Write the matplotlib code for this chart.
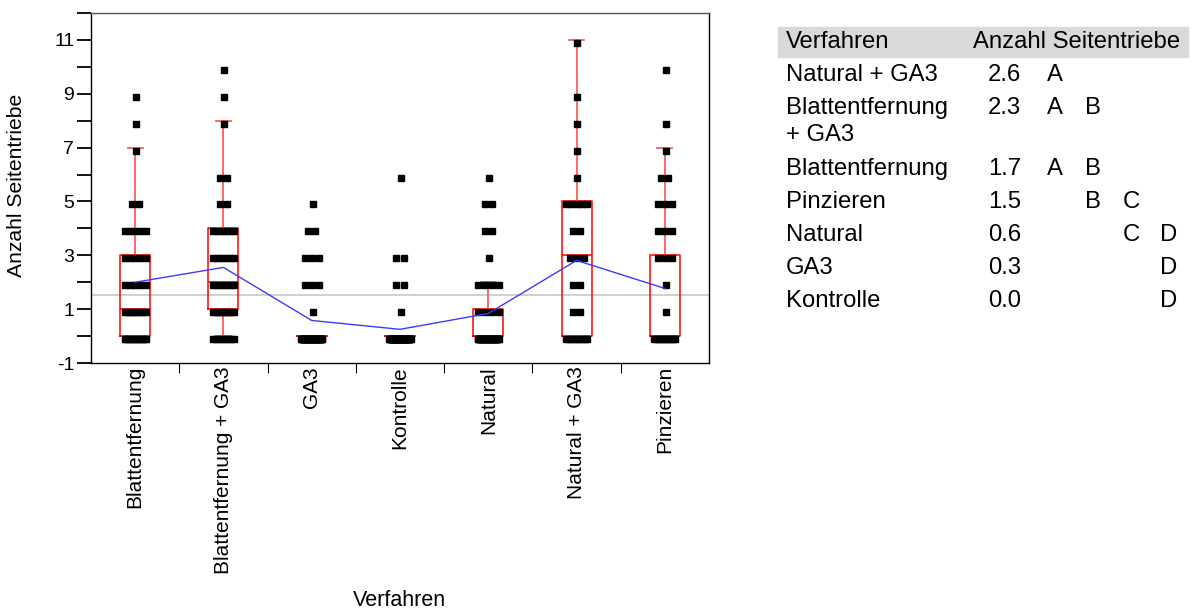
import numpy as np
import matplotlib
matplotlib.use("Agg")
import matplotlib.pyplot as plt
import matplotlib.transforms as mtransforms
from matplotlib.patches import Rectangle

plt.rcParams['font.family'] = ['Liberation Sans', 'DejaVu Sans']

# ---- data ----
categories = ["Blattentfernung", "Blattentfernung + GA3", "GA3", "Kontrolle",
              "Natural", "Natural + GA3", "Pinzieren"]
point_levels = list(range(12))  # values 0..11
# number of observations at each level 0..11, per category
counts_blatt      = [12, 9, 5, 5, 5, 2, 0, 1, 1, 1, 0, 0]
counts_blatt_ga3  = [8, 10, 6, 6, 6, 2, 2, 0, 1, 1, 1, 0]
counts_ga3        = [40, 1, 3, 3, 2, 1, 0, 0, 0, 0, 0, 0]
counts_kontrolle  = [50, 1, 2, 2, 0, 0, 1, 0, 0, 0, 0, 0]
counts_natural    = [32, 4, 4, 1, 2, 2, 1, 0, 0, 0, 0, 0]
counts_natural_ga3 = [9, 2, 2, 3, 2, 5, 1, 1, 1, 1, 0, 1]
counts_pinz       = [10, 1, 1, 3, 3, 3, 2, 1, 1, 0, 1, 0]
all_counts = [counts_blatt, counts_blatt_ga3, counts_ga3, counts_kontrolle,
              counts_natural, counts_natural_ga3, counts_pinz]

# box plot statistics
q1 = [0, 1, 0, 0, 0, 0, 0]
median = [1, 2, 0, 0, 0, 3, 0]
q3 = [3, 4, 0, 0, 1, 5, 3]
whisk_lo = [0, 0, 0, 0, 0, 0, 0]
whisk_hi = [7, 8, 0, 0, 2, 11, 7]
group_means = [2.0, 2.55, 0.58, 0.25, 0.84, 2.81, 1.77]
grand_mean = 1.51

# table
table_names = ["Natural + GA3", "Blattentfernung\n+ GA3", "Blattentfernung",
               "Pinzieren", "Natural", "GA3", "Kontrolle"]
table_means = ["2.6", "2.3", "1.7", "1.5", "0.6", "0.3", "0.0"]
table_letters = [["A"], ["A", "B"], ["A", "B"], ["B", "C"], ["C", "D"], ["D"], ["D"]]

# ---- figure ----
W, H = 1194, 612
fig = plt.figure(figsize=(W / 100, H / 100), dpi=100)
ax = fig.add_axes([91 / W, 1 - 363 / H, (709 - 91) / W, (363 - 13) / H])

ax.set_xlim(-0.5, 6.5)
ax.set_ylim(-1, 12)

# grand mean line
ax.axhline(grand_mean, color="#c8c8c8", lw=1.2, zorder=1)

# box plots
stats = []
for i in range(len(categories)):
    stats.append(dict(med=median[i], q1=q1[i], q3=q3[i],
                      whislo=whisk_lo[i], whishi=whisk_hi[i], fliers=[]))
ax.bxp(stats, positions=np.arange(len(categories)), widths=0.34,
       showfliers=False,
       boxprops=dict(color="#ff0000", lw=1.1),
       medianprops=dict(color="#ff0000", lw=1.1),
       whiskerprops=dict(color="#ff5a5a", lw=1.3),
       capprops=dict(color="#ff5a5a", lw=1.3),
       manage_ticks=False, zorder=2)

# points (jittered horizontally, slightly shifted down like the original)
ptrans = mtransforms.offset_copy(ax.transData, fig=fig, x=0, y=-3, units='dots')
for i, cnts in enumerate(all_counts):
    xs, ys = [], []
    for lvl, n in zip(point_levels, cnts):
        if n == 0:
            continue
        s = min(0.12, 0.04 * (n - 1))
        offs = np.linspace(-s, s, n) if n > 1 else np.array([0.01])
        xs.extend(i + offs)
        ys.extend([lvl] * n)
    ax.plot(xs, ys, ls="none", marker="s", ms=4.6, color="black",
            transform=ptrans, zorder=3)

# mean line
ax.plot(np.arange(len(categories)), group_means, color="#3b3bff", lw=1.0, zorder=4)

# axes styling
ax.set_yticks(range(-1, 13))
ax.set_yticklabels([str(v) if v % 2 == 1 else "" for v in range(-1, 13)])
ax.tick_params(axis="y", length=10, width=1.3, labelsize=14, pad=2)
ax.set_xticks(np.arange(0.5, 6.5, 1.0))
ax.set_xticklabels([])
ax.tick_params(axis="x", length=7, width=0.8)
lab_trans = mtransforms.offset_copy(ax.get_xaxis_transform(), fig=fig, x=0, y=-3,
                                    units='dots')
for i, c in enumerate(categories):
    ax.text(i, 0, c, rotation=90, ha="center", va="top", fontsize=15,
            transform=lab_trans)
for sp in ax.spines.values():
    sp.set_linewidth(1.0)
ax.spines["top"].set_color("#555555")

fig.text(17 / W, 1 - 185 / H, "Anzahl Seitentriebe", rotation=90,
         ha="center", va="center", fontsize=15.2)
fig.text(399 / W, 1 - 601 / H, "Verfahren", ha="center", va="center", fontsize=15.5)

# ---- table ----
fig.patches.append(Rectangle((778 / W, 1 - 57 / H), 410 / W, 30 / H,
                             transform=fig.transFigure, color="#d9d9d9", zorder=0))
fs = 17.2
fig.text(786 / W, 1 - 42 / H, "Verfahren", ha="left", va="center", fontsize=fs)
fig.text(973 / W, 1 - 42 / H, "Anzahl Seitentriebe", ha="left", va="center", fontsize=fs)
row_y = [75, 108, 169, 202, 235, 268, 301]
letter_x = {"A": 1055, "B": 1093, "C": 1131, "D": 1169}
for name, m, lets, y in zip(table_names, table_means, table_letters, row_y):
    fig.text(786 / W, 1 - y / H, name.split("\n")[0], ha="left", va="center",
             fontsize=fs)
    if "\n" in name:
        fig.text(786 / W, 1 - (y + 27) / H, name.split("\n")[1], ha="left",
                 va="center", fontsize=fs)
    fig.text(988 / W, 1 - y / H, m, ha="left", va="center", fontsize=fs)
    for L in lets:
        fig.text(letter_x[L] / W, 1 - y / H, L, ha="center", va="center", fontsize=fs)

fig.savefig("out.png", dpi=100)
